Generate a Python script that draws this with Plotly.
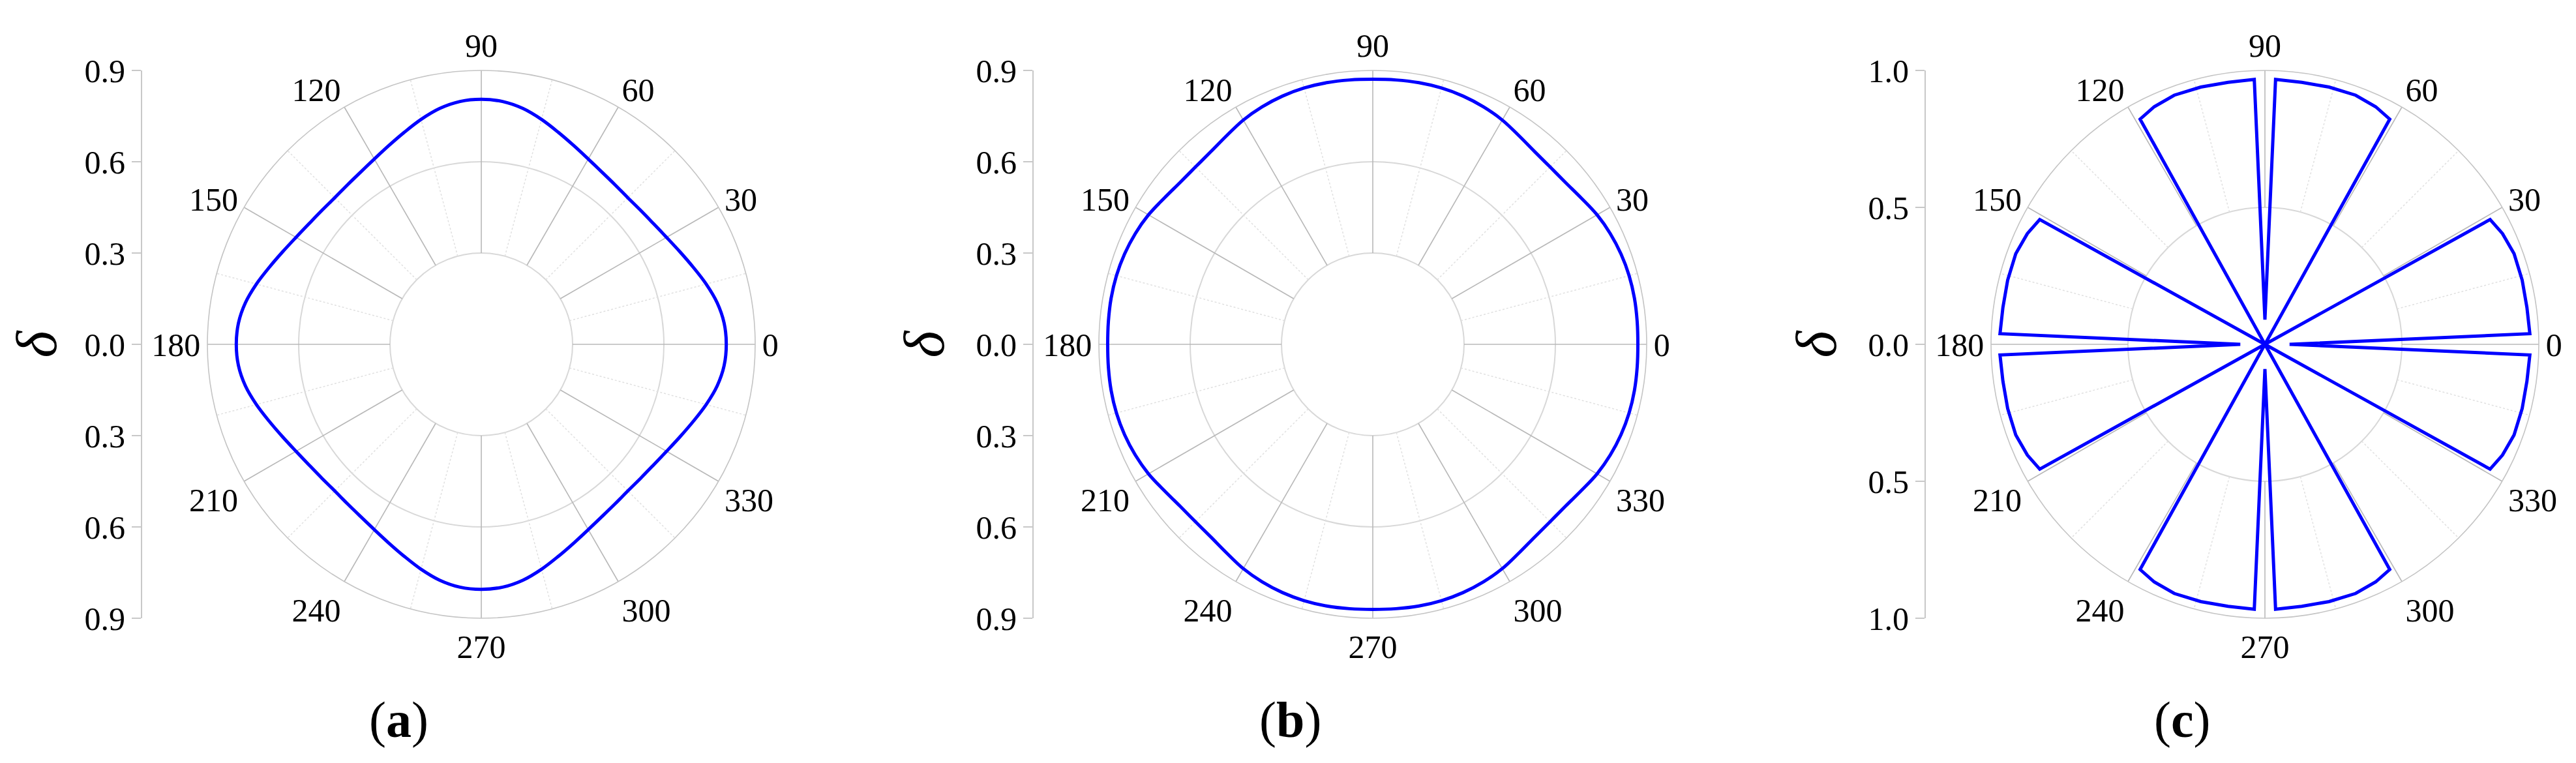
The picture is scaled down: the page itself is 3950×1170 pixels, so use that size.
import plotly.graph_objects as go

# ---------------- data ----------------
# panel (a): rounded diamond, r every 5 degrees from 0 to 360
theta_a = list(range(0, 361, 5))
r_a = [0.805, 0.801, 0.787, 0.765, 0.741, 0.720, 0.703, 0.691, 0.684, 0.681, 0.684, 0.691, 0.703, 0.720, 0.741, 0.765, 0.787, 0.801,
       0.805, 0.801, 0.787, 0.765, 0.741, 0.720, 0.703, 0.691, 0.684, 0.681, 0.684, 0.691, 0.703, 0.720, 0.741, 0.765, 0.787, 0.801,
       0.805, 0.801, 0.787, 0.765, 0.741, 0.720, 0.703, 0.691, 0.684, 0.681, 0.684, 0.691, 0.703, 0.720, 0.741, 0.765, 0.787, 0.801,
       0.805, 0.801, 0.787, 0.765, 0.741, 0.720, 0.703, 0.691, 0.684, 0.681, 0.684, 0.691, 0.703, 0.720, 0.741, 0.765, 0.787, 0.801,
       0.805]

# panel (b): rounded square with chamfered diagonals
theta_b = list(range(0, 361, 5))
r_b = [0.871, 0.872, 0.873, 0.872, 0.868, 0.861, 0.851, 0.837, 0.827, 0.824, 0.827, 0.837, 0.851, 0.861, 0.868, 0.872, 0.873, 0.872,
       0.871, 0.872, 0.873, 0.872, 0.868, 0.861, 0.851, 0.837, 0.827, 0.824, 0.827, 0.837, 0.851, 0.861, 0.868, 0.872, 0.873, 0.872,
       0.871, 0.872, 0.873, 0.872, 0.868, 0.861, 0.851, 0.837, 0.827, 0.824, 0.827, 0.837, 0.851, 0.861, 0.868, 0.872, 0.873, 0.872,
       0.871, 0.872, 0.873, 0.872, 0.868, 0.861, 0.851, 0.837, 0.827, 0.824, 0.827, 0.837, 0.851, 0.861, 0.868, 0.872, 0.873, 0.872,
       0.871]

# panel (c): eight sector-shaped lobes
theta_c = [0, 2.3, 8, 14, 20, 25, 29, 30, 60, 61, 65, 70, 76, 82, 87.7,
           90, 92.3, 98, 104, 110, 115, 119, 120, 150, 151, 155, 160, 166, 172, 177.7,
           180, 182.3, 188, 194, 200, 205, 209, 210, 240, 241, 245, 250, 256, 262, 267.7,
           270, 272.3, 278, 284, 290, 295, 299, 300, 330, 331, 335, 340, 346, 352, 357.7,
           360]
r_c = [0.09, 0.968, 0.966, 0.968, 0.968, 0.957, 0.940, 0.0, 0.0, 0.940, 0.957, 0.968, 0.968, 0.966, 0.968,
       0.09, 0.968, 0.966, 0.968, 0.968, 0.957, 0.940, 0.0, 0.0, 0.940, 0.957, 0.968, 0.968, 0.966, 0.968,
       0.09, 0.968, 0.966, 0.968, 0.968, 0.957, 0.940, 0.0, 0.0, 0.940, 0.957, 0.968, 0.968, 0.966, 0.968,
       0.09, 0.968, 0.966, 0.968, 0.968, 0.957, 0.940, 0.0, 0.0, 0.940, 0.957, 0.968, 0.968, 0.966, 0.968,
       0.09]

angle_ticks = [0, 30, 60, 90, 120, 150, 180, 210, 240, 270, 300, 330]
radial_ticks_ab = [-0.9, -0.6, -0.3, 0.0, 0.3, 0.6, 0.9]
radial_labels_ab = ["0.9", "0.6", "0.3", "0.0", "0.3", "0.6", "0.9"]
radial_ticks_c = [-1.0, -0.5, 0.0, 0.5, 1.0]
radial_labels_c = ["1.0", "0.5", "0.0", "0.5", "1.0"]
panel_labels = ["(<b>a</b>)", "(<b>b</b>)", "(<b>c</b>)"]

# ---------------- layout geometry ----------------
W, H = 3950, 1170
R = 420
CY = 520
centers = [730, 2097, 3465]
FONT = "Liberation Serif"
BLUE = "#0000ff"
TICK_SIZE = 50

panels = [
    dict(theta=theta_a, r=r_a, rmax=0.9, rin=0.3, rgrid=[0.3, 0.6], shape="spline",
         yt=radial_ticks_ab, yl=radial_labels_ab),
    dict(theta=theta_b, r=r_b, rmax=0.9, rin=0.3, rgrid=[0.3, 0.6], shape="spline",
         yt=radial_ticks_ab, yl=radial_labels_ab),
    dict(theta=theta_c, r=r_c, rmax=1.0, rin=0.5, rgrid=[0.5], shape="linear",
         yt=radial_ticks_c, yl=radial_labels_c),
]

fig = go.Figure()
layout = dict(width=W, height=H, margin=dict(l=0, r=0, t=0, b=0, pad=0, autoexpand=False),
              paper_bgcolor="white", plot_bgcolor="white", showlegend=False,
              font=dict(family=FONT, color="black", size=TICK_SIZE))
annotations = []

ydom = [(H - CY - R) / H, (H - CY + R) / H]

for i, (p, cx) in enumerate(zip(panels, centers)):
    pk = "polar" if i == 0 else f"polar{i+1}"
    # spokes (start at the first grid circle)
    maj_r, maj_t, min_r, min_t = [], [], [], []
    for a in range(0, 360, 15):
        if a % 30 == 0:
            maj_r += [p["rin"], p["rmax"], None]
            maj_t += [a, a, None]
        else:
            min_r += [p["rin"], p["rmax"], None]
            min_t += [a, a, None]
    fig.add_trace(go.Scatterpolar(r=min_r, theta=min_t, mode="lines", subplot=pk,
                                  line=dict(color="#e0e0e0", width=1.5, dash="dot"),
                                  hoverinfo="skip"))
    fig.add_trace(go.Scatterpolar(r=maj_r, theta=maj_t, mode="lines", subplot=pk,
                                  line=dict(color="#b8b8b8", width=1.6),
                                  hoverinfo="skip"))
    # data curve
    fig.add_trace(go.Scatterpolar(r=p["r"], theta=p["theta"], mode="lines", subplot=pk,
                                  line=dict(color=BLUE, width=5, shape=p["shape"])))

    layout[pk] = dict(
        domain=dict(x=[(cx - R) / W, (cx + R) / W], y=ydom),
        bgcolor="white",
        angularaxis=dict(rotation=0, direction="counterclockwise",
                         tickmode="array", tickvals=angle_ticks,
                         ticktext=[str(a) for a in angle_ticks],
                         showgrid=False, showline=True, linecolor="#c4c4c4", linewidth=1.6,
                         ticks="", tickfont=dict(family=FONT, size=TICK_SIZE, color="black")),
        radialaxis=dict(range=[0, p["rmax"]], tickmode="array", tickvals=p["rgrid"],
                        showticklabels=False, showline=False, ticks="",
                        gridcolor="#d8d8d8", gridwidth=1.5),
    )

    # left delta axis (cartesian, same scale as the radial axis)
    xk = "xaxis" if i == 0 else f"xaxis{i+1}"
    yk = "yaxis" if i == 0 else f"yaxis{i+1}"
    xa = "x" if i == 0 else f"x{i+1}"
    ya = "y" if i == 0 else f"y{i+1}"
    fig.add_trace(go.Scatter(x=[None], y=[None], xaxis=xa, yaxis=ya, mode="lines",
                             hoverinfo="skip", showlegend=False))
    ax_x = cx - 520
    layout[xk] = dict(domain=[ax_x / W, (ax_x + 10) / W], anchor=ya, visible=False,
                      range=[0, 1], automargin=False)
    layout[yk] = dict(domain=ydom, anchor=xa, range=[p["yt"][0], p["yt"][-1]],
                      automargin=False,
                      tickmode="array", tickvals=p["yt"], ticktext=p["yl"],
                      showline=True, linecolor="#c8c8c8", linewidth=2,
                      ticks="outside", ticklen=14, tickwidth=2, tickcolor="#c8c8c8",
                      showgrid=False, zeroline=False,
                      tickfont=dict(family=FONT, size=TICK_SIZE, color="black"),
                      title=dict(text="<i>δ</i>", font=dict(family=FONT, size=88, color="black"),
                                 standoff=20))
    annotations.append(dict(text=panel_labels[i], x=(cx - 127) / W, y=1 - 1095 / H,
                            xref="paper", yref="paper", xanchor="center", yanchor="middle",
                            showarrow=False, font=dict(family=FONT, size=78, color="black")))

layout["annotations"] = annotations
fig.update_layout(**layout)
fig.write_html("out.html")
